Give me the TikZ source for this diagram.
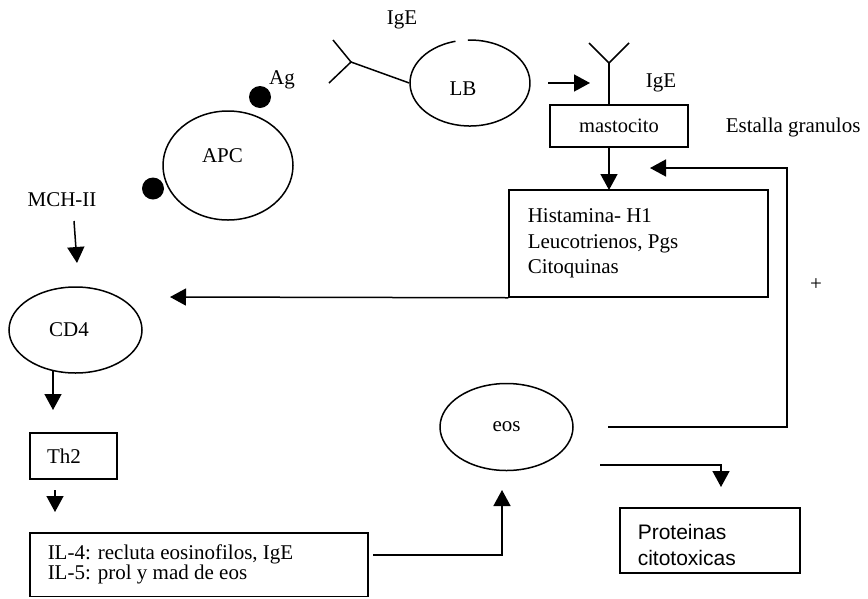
\documentclass[tikz,border=0pt]{standalone}
\usepackage{fontspec}
\setmainfont{Liberation Serif}
\newfontfamily\arialfont{Liberation Sans}
\usetikzlibrary{shapes.geometric,arrows.meta}
\tikzset{
  arr/.style={-{Triangle[length=16pt,width=17pt]}},
  cell/.style={ellipse, inner sep=0pt},
  box/.style={rectangle, draw, inner sep=0pt},
  txt/.style={font=\fontsize{21}{25.5}\selectfont, inner sep=0pt},
  stxt/.style={font=\arialfont\fontsize{21}{26}\selectfont, inner sep=0pt},
  dot/.style={circle, fill, inner sep=0pt, minimum size=22pt},
}
\begin{document}
\begin{tikzpicture}[x=1pt,y=-1pt,line width=1.5pt]
\useasboundingbox (0,0) rectangle (868,598);

% cells
\node[cell, minimum width=120pt, minimum height=86pt] (LB) at (470,83) {};
\draw ([shift={(104:60pt and 43pt)}]LB.center) arc[start angle=104, end angle=452, x radius=60pt, y radius=43pt];
\node[txt] (LBt) at (463,89) {LB};

\node[cell, draw, minimum width=130pt, minimum height=109pt] (APC) at (228,165.5) {};
\node[txt] (APCt) at (222.5,155.5) {APC};
\node[dot] (ag) at (260,97) {};
\node[dot] (mhc) at (153,188.5) {};
\node[txt] (agt) at (282,80) {Ag};

\node[cell, draw, minimum width=133pt, minimum height=86pt] (CD4) at (75.5,330) {};
\node[txt] (CD4t) at (69,330) {CD4};

\node[cell, draw, minimum width=133pt, minimum height=87pt, font=\fontsize{21}{24}\selectfont] (eos) at (506.5,427) {eos};

% labels
\node[txt] (IgE1) at (402,20) {IgE};
\node[txt] (IgE2) at (661,83) {IgE};
\node[txt] (MCH) at (62,200) {MCH-II};
\node[txt, anchor=west] (est) at (725,127) {Estalla granulos};
\node[txt] (plus) at (816,285) {+};

% boxes
\node[box, minimum width=138pt, minimum height=42pt, font=\fontsize{20.5}{24}\selectfont] (masto) at (619,126) {mastocito};
\node[box, minimum width=259pt, minimum height=107pt] (hist) at (638.5,243.5) {};
\node[txt, anchor=north west, align=left] (histt) at (527,208) {Histamina- H1\\Leucotrienos, Pgs\\Citoquinas};
\node[box, minimum width=87pt, minimum height=46pt] (Th2) at (73.5,456) {};
\node[txt] (Th2t) at (64,456) {Th2};
\node[box, minimum width=338pt, minimum height=63.5pt] (IL) at (199,564.75) {};
\node[txt, anchor=north west, align=left, font=\fontsize{21}{20}\selectfont] (ILt) at (47,544) {IL-4: recluta eosinofilos, IgE\\IL-5: prol y mad de eos};
\node[box, minimum width=180pt, minimum height=65pt] (prot) at (710,540.5) {};
\node[stxt, anchor=north west, align=left] (prott) at (637,524) {Proteinas\\citotoxicas};

% antibody on LB
\coordinate (J1) at (351,62);
\coordinate (a1) at (333,40);
\coordinate (a2) at (329,83);
\draw (a1) -- (J1) -- (a2);
\draw (J1) -- (LB.west);

% antibody on mastocito
\coordinate (J2) at (609,63);
\coordinate (b1) at (589,43);
\coordinate (b2) at (629,43);
\coordinate (b3) at (609,105);
\draw (b1) -- (J2) -- (b2);
\draw (J2) -- (b3);

% arrows
\coordinate (s1) at (548,83);
\coordinate (e1) at (590,83);
\draw[arr] (s1) -- (e1);

\coordinate (s2a) at (609,147);
\coordinate (e2a) at (609,190);
\draw[arr] (s2a) -- (e2a);

\coordinate (e2) at (170,297);
\draw[arr] (hist.south west) -- (e2);

\coordinate (s3) at (74,221);
\coordinate (e3) at (77,263);
\draw[arr] (s3) -- (e3);

\coordinate (s4) at (53,371);
\coordinate (e4) at (53,410);
\draw[arr] (s4) -- (e4);

\coordinate (s5) at (55,490);
\coordinate (e5) at (55,512);
\draw[arr] (s5) -- (e5);

\coordinate (s6) at (373,555);
\coordinate (c6) at (502,555);
\coordinate (e6) at (502,490);
\draw[arr] (s6) -- (c6) -- (e6);

\coordinate (s7) at (608,427);
\coordinate (c7a) at (787,427);
\coordinate (c7b) at (787,168);
\coordinate (e7) at (650,168);
\draw[arr] (s7) -- (c7a) -- (c7b) -- (e7);

\coordinate (s8) at (600,465);
\coordinate (c8) at (721,465);
\coordinate (e8) at (721,487);
\draw[arr] (s8) -- (c8) -- (e8);
\end{tikzpicture}
\end{document}
